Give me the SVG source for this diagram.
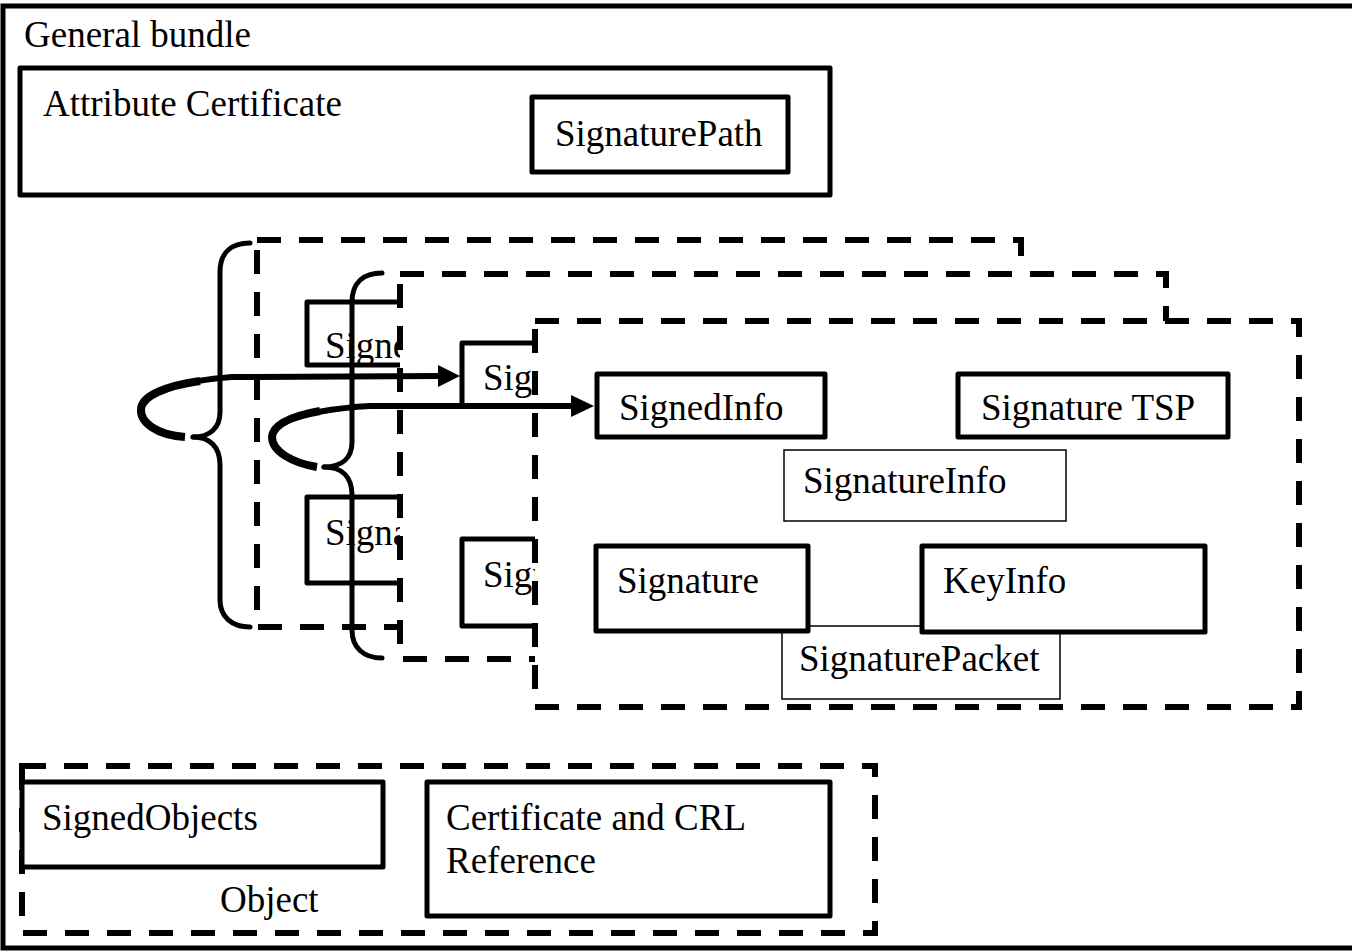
<svg xmlns="http://www.w3.org/2000/svg" width="1352" height="952" viewBox="0 0 1352 952">
  <style>
    text { font-family: "Liberation Serif", "Times New Roman", serif; font-size: 37px; fill: #000; }
    .box { fill: #fff; stroke: #000; stroke-width: 5; stroke-linejoin: round; }
    .thin { fill: #fff; stroke: #000; stroke-width: 1.5; }
    .layer { fill: #fff; stroke: #000; stroke-width: 6; stroke-dasharray: 24 18; }
    .frame { fill: none; stroke: #000; stroke-width: 5; }
    .brace { fill: none; stroke: #000; stroke-width: 5; stroke-linecap: round; }
    .link { fill: none; stroke: #000; stroke-width: 6; }
    .loop { fill: none; stroke: #000; stroke-width: 8; stroke-linecap: butt; }
    .head { fill: #000; stroke: none; }
  </style>

  <rect width="1352" height="952" fill="#fff"/>

  <!-- outer container -->
  <g id="general-bundle">
    <rect class="frame" x="3" y="6" width="1360" height="942"/>
    <text x="24" y="47">General bundle</text>
  </g>

  <g id="attribute-certificate">
    <rect class="box" x="20" y="68" width="810" height="127"/>
    <text x="43" y="116">Attribute Certificate</text>
  </g>
  <g id="signature-path">
    <rect class="box" x="532" y="97" width="256" height="75"/>
    <text x="555" y="146">SignaturePath</text>
  </g>

  <!-- stacked signature packets, back to front -->
  <g id="packet-1">
    <rect class="layer" x="257" y="240" width="764" height="387"/>
    <g id="packet-1-signedinfo">
      <rect class="box" x="307" y="302" width="120" height="63"/>
      <text x="325" y="358">Signe</text>
    </g>
    <g id="packet-1-signature">
      <rect class="box" x="307" y="497" width="120" height="86"/>
      <text x="325" y="545">Signa</text>
    </g>
  </g>

  <g id="packet-2">
    <rect class="layer" x="400" y="274" width="766" height="385"/>
    <g id="packet-2-signedinfo">
      <rect class="box" x="462" y="343" width="120" height="63"/>
      <text x="483" y="390">Sign</text>
    </g>
    <g id="packet-2-signature">
      <rect class="box" x="462" y="539" width="120" height="87"/>
      <text x="483" y="587">Sign</text>
    </g>
  </g>

  <g id="packet-3">
    <rect class="layer" x="535" y="321" width="764" height="386"/>
    <g id="signedinfo">
      <rect class="box" x="597" y="374" width="228" height="63"/>
      <text x="619" y="420">SignedInfo</text>
    </g>
    <g id="signature-tsp">
      <rect class="box" x="958" y="374" width="270" height="63"/>
      <text x="981" y="420">Signature TSP</text>
    </g>
    <g id="signatureinfo">
      <rect class="thin" x="784" y="450" width="282" height="71"/>
      <text x="803" y="493">SignatureInfo</text>
    </g>
    <g id="signaturepacket">
      <rect class="thin" x="782" y="626" width="278" height="73"/>
      <text x="799" y="671">SignaturePacket</text>
    </g>
    <g id="signature">
      <rect class="box" x="596" y="546" width="212" height="85"/>
      <text x="617" y="593">Signature</text>
    </g>
    <g id="keyinfo">
      <rect class="box" x="922" y="546" width="283" height="86"/>
      <text x="943" y="593">KeyInfo</text>
    </g>
  </g>

  <!-- object section -->
  <g id="object">
    <rect class="layer" x="22" y="766" width="853" height="167"/>
    <text x="220" y="912">Object</text>
    <g id="signedobjects">
      <rect class="box" x="22" y="782" width="361" height="85"/>
      <text x="42" y="830">SignedObjects</text>
    </g>
    <g id="cert-crl-reference">
      <rect class="box" x="427" y="782" width="403" height="134"/>
      <text x="446" y="830">Certificate and CRL</text>
      <text x="446" y="873">Reference</text>
    </g>
  </g>

  <!-- braces and arrows -->
  <g id="connectors">
    <path class="brace" d="M250,243 C232,243 220,252 220,272 L220,412 C220,428 210,437 193,437"/>
    <path class="brace" d="M193,437 C210,437 220,447 220,465 L220,600 C220,617 232,627 250,627"/>
    <path class="brace" d="M382,273 C364,273 352,282 352,302 L352,442 C352,458 342,467 324,467"/>
    <path class="brace" d="M324,467 C342,467 352,477 352,495 L352,630 C352,648 364,658 382,658"/>

    <path class="loop" d="M185,437 C156,435 140,422 141,409 C142,396 165,386 200,381"/>
    <path class="link" d="M198,381 C210,379 220,378 232,377 L440,376"/>
    <polygon class="head" points="460,376 438,365 438,387"/>

    <path class="loop" d="M317,467 C292,463 272,451 272,437 C273,424 292,416 320,411"/>
    <path class="link" d="M318,412 C335,409 350,407 370,406 L573,406"/>
    <polygon class="head" points="594,406 571,395 571,417"/>
  </g>
</svg>
